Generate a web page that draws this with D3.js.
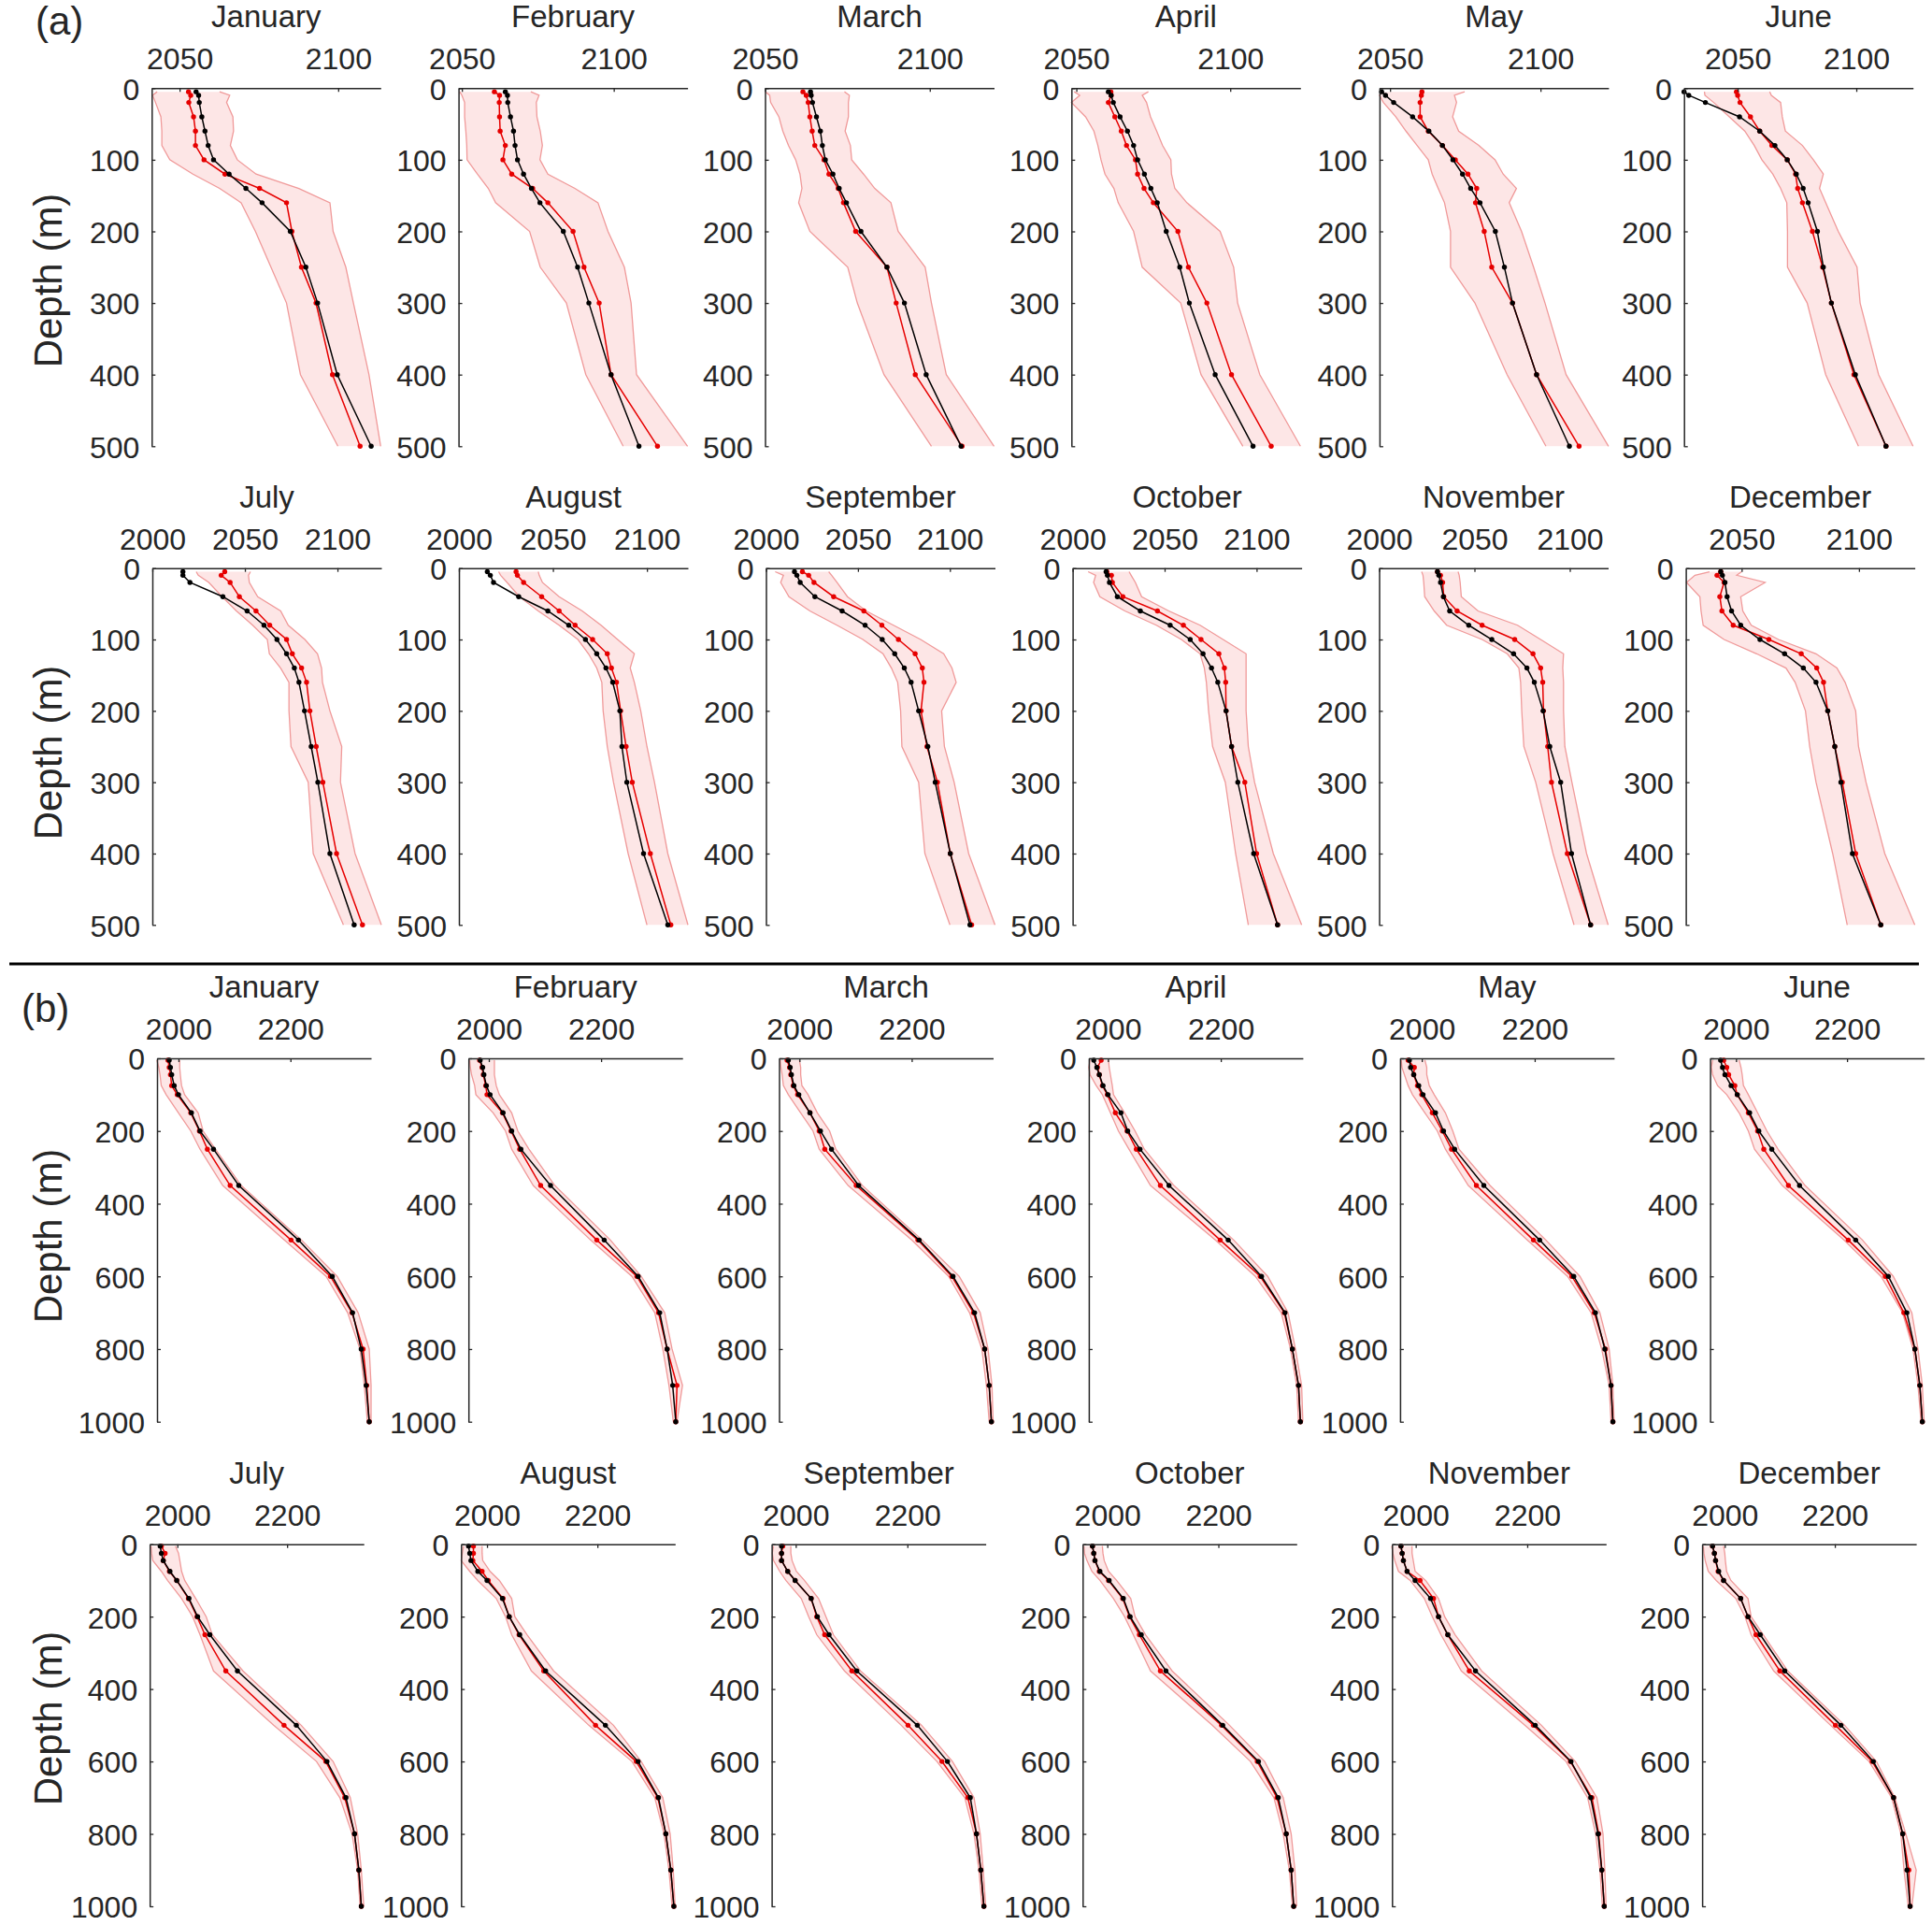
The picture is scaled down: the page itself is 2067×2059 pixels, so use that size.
<!DOCTYPE html>
<html><head><meta charset="utf-8">
<script src="https://cdn.jsdelivr.net/npm/d3@7"></script>
<style>
body{margin:0;background:#fff}
svg{display:block}
text{font-family:"Liberation Sans",Arial,Helvetica,sans-serif;fill:#262626}
</style>
</head><body>
<svg id="c" width="2067" height="2059"></svg>
<script>
// ---------------- DATA ----------------
const months = ["January","February","March","April","May","June","July","August","September","October","November","December"];
const depthA = [5,10,20,40,60,80,100,120,140,160,200,250,300,400,500];
const depthB = [5,25,45,75,100,150,200,250,350,500,600,700,800,900,1000];
const aXticks = [2000,2050,2100];
const bXticks = [2000,2200];
const aYticks = [0,100,200,300,400,500];
const bYticks = [0,200,400,600,800,1000];

// panel (a): x-limits per month
const aXlim = [[2041.2,2113.4],[2048.9,2124.3],[2050,2119.5],[2048.4,2122.8],[2046.5,2122.6],[2027.4,2123.9],
               [2000,2123.7],[2000,2121.8],[2000,2124.5],[2000,2124.5],[2000,2120.1],[2026.2,2123.8]];
const aBlack = [
 [2055.2,2056.0,2056.2,2057.0,2058.0,2059.0,2060.7,2065.6,2070.9,2076.0,2084.9,2089.8,2093.5,2099.7,2110.4],
 [2064.3,2065.0,2065.1,2066.0,2067.0,2067.5,2068.3,2070.3,2072.9,2075.7,2083.4,2088.1,2091.8,2099.1,2108.3],
 [2063.8,2064.0,2064.4,2065.6,2066.8,2067.4,2068.3,2070.6,2072.5,2074.7,2079.1,2087.0,2092.3,2098.9,2109.5],
 [2060.4,2061.3,2062.0,2064.2,2066.6,2068.6,2069.9,2072.1,2074.2,2076.3,2079.2,2083.6,2086.7,2095.1,2107.4],
 [2047.2,2048.5,2051.2,2057.5,2062.9,2067.4,2070.9,2074.1,2076.8,2079.9,2085.0,2088.0,2090.7,2098.7,2109.6],
 [2027.4,2029.4,2036.4,2050.8,2059.3,2065.7,2070.9,2074.7,2077.6,2079.7,2083.6,2086.1,2089.5,2099.6,2112.5],
 [2016.5,2016.5,2020.3,2038.1,2051.2,2060.3,2067.3,2072.5,2076.7,2079.2,2082.2,2085.8,2089.4,2095.9,2109.0],
 [2015.1,2016.7,2018.4,2031.8,2047.3,2058.4,2067.3,2073.3,2078.2,2081.8,2085.6,2086.7,2089.3,2098.2,2111.1],
 [2015.5,2016.8,2018.6,2026.6,2041.4,2053.9,2063.2,2070.0,2075.2,2078.9,2083.0,2088.0,2092.0,2100.2,2110.9],
 [2018.2,2018.9,2020.0,2024.3,2036.8,2053.0,2063.9,2070.9,2075.5,2078.9,2083.4,2086.4,2089.8,2098.4,2111.4],
 [2030.6,2031.3,2032.2,2033.7,2037.0,2047.0,2059.1,2070.5,2077.5,2081.4,2086.0,2089.5,2095.2,2100.9,2110.9],
 [2041.1,2041.8,2042.9,2043.8,2045.7,2049.6,2057.8,2068.3,2076.3,2081.7,2086.7,2089.7,2092.3,2097.2,2109.3]];
const aRed = [
 [2052.8,2053.5,2052.9,2054.4,2055.0,2055.0,2057.7,2064.3,2075.2,2083.7,2085.4,2088.4,2093.0,2098.2,2106.9],
 [2060.7,2062.4,2062.3,2062.4,2062.6,2064.3,2063.5,2066.4,2073.3,2078.3,2086.6,2090.2,2095.2,2099.1,2114.4],
 [2061.5,2062.5,2063.1,2063.6,2064.3,2065.1,2067.9,2069.4,2072.2,2073.8,2077.5,2087.0,2089.8,2095.6,2109.8],
 [2061.2,2061.3,2060.4,2062.5,2064.6,2066.3,2069.2,2069.9,2072.0,2075.0,2083.0,2086.4,2092.4,2100.4,2113.3],
 [2060.6,2060.4,2060.0,2060.0,2062.7,2067.4,2071.7,2075.9,2078.8,2078.4,2081.3,2083.8,2090.7,2098.7,2112.8],
 [2049.5,2050.0,2051.0,2055.4,2059.3,2064.4,2070.9,2074.4,2075.3,2077.3,2081.5,2085.8,2089.5,2099.0,2112.5],
 [2039.1,2037.2,2042.0,2047.0,2056.0,2063.4,2072.5,2075.6,2080.6,2083.3,2085.1,2088.5,2092.1,2099.5,2113.5],
 [2030.4,2031.1,2034.4,2044.0,2053.3,2061.8,2071.1,2078.9,2081.1,2083.8,2086.0,2088.9,2092.2,2101.8,2112.7],
 [2019.8,2023.2,2026.1,2036.8,2053.2,2063.0,2072.0,2081.1,2085.0,2085.9,2084.3,2087.5,2093.2,2100.2,2111.8],
 [2018.6,2021.1,2021.6,2027.3,2046.1,2060.2,2069.8,2079.5,2082.5,2083.2,2083.4,2086.4,2093.6,2100.0,2111.4],
 [2030.6,2032.2,2033.3,2033.9,2040.9,2054.0,2071.1,2080.7,2084.7,2085.8,2086.2,2088.4,2090.4,2098.7,2110.9],
 [2041.1,2039.5,2042.5,2040.7,2041.6,2046.4,2061.6,2075.4,2082.0,2084.9,2086.7,2089.7,2092.9,2098.6,2109.3]];
const aLow = [
 [2042.9,2041.5,2042.4,2044.1,2044.4,2044.4,2046.9,2054.2,2062.6,2069.4,2073.9,2078.8,2083.7,2088.1,2099.9],
 [2049.3,2050.0,2050.9,2050.9,2051.3,2051.6,2051.7,2055.1,2058.7,2061.1,2072.3,2075.8,2084.4,2090.8,2103.1],
 [2050.1,2051.4,2051.7,2054.2,2055.4,2057.1,2059.3,2060.6,2061.2,2060.2,2063.6,2075.1,2078.0,2086.1,2100.5],
 [2049.3,2051.1,2048.4,2053.0,2055.7,2057.0,2058.0,2059.3,2062.2,2063.6,2068.6,2071.4,2083.9,2090.5,2104.1],
 [2047.2,2046.5,2047.8,2051.9,2055.3,2059.0,2062.7,2064.0,2066.0,2068.1,2070.1,2070.1,2078.2,2088.9,2101.8],
 [2036.0,2036.2,2039.9,2046.5,2053.0,2057.0,2060.2,2064.8,2068.1,2070.7,2071.0,2071.0,2079.3,2087.1,2100.9],
 [2023.7,2024.8,2030.5,2037.7,2045.4,2054.2,2062.1,2063.2,2069.3,2073.8,2073.8,2074.9,2084.2,2086.9,2103.2],
 [2021.1,2022.2,2025.6,2032.2,2042.2,2053.3,2063.3,2068.9,2073.3,2076.0,2076.7,2078.9,2082.2,2090.0,2100.0],
 [2005.0,2009.5,2008.0,2012.5,2023.9,2038.6,2052.7,2063.6,2068.2,2071.6,2073.2,2073.9,2083.0,2086.4,2100.0],
 [2008.4,2012.5,2011.4,2014.8,2028.4,2045.5,2059.1,2069.3,2071.6,2072.7,2073.9,2076.1,2083.0,2088.6,2095.5],
 [2022.3,2023.0,2023.4,2023.9,2028.9,2035.4,2054.0,2067.2,2073.3,2074.2,2074.8,2075.9,2082.1,2091.2,2102.2],
 [2036.3,2030.1,2026.5,2032.2,2032.7,2033.6,2042.5,2056.4,2068.9,2072.8,2077.2,2079.0,2081.7,2088.8,2095.0]];
const aHigh = [
 [2062.6,2065.8,2064.8,2066.8,2067.0,2066.0,2068.2,2074.1,2087.6,2097.4,2098.4,2102.4,2104.8,2109.7,2113.4],
 [2072.7,2075.4,2074.5,2074.7,2075.8,2076.5,2075.7,2078.3,2087.2,2094.8,2098.1,2103.5,2105.7,2107.5,2124.3],
 [2074.1,2075.6,2075.3,2075.3,2074.3,2075.9,2076.3,2079.9,2083.3,2088.2,2090.4,2098.6,2100.5,2105.0,2119.5],
 [2073.4,2071.4,2072.8,2074.1,2076.1,2078.0,2080.7,2080.9,2082.0,2085.9,2096.7,2101.1,2102.4,2109.6,2122.8],
 [2074.8,2071.4,2072.1,2070.8,2072.8,2079.5,2084.9,2087.6,2092.0,2089.6,2093.7,2097.7,2101.5,2108.5,2122.6],
 [2063.5,2064.2,2068.1,2068.8,2070.1,2077.3,2081.9,2086.1,2084.5,2087.1,2092.4,2100.3,2101.6,2109.4,2123.9],
 [2053.0,2051.9,2052.4,2056.9,2069.3,2073.4,2082.4,2089.2,2091.4,2091.9,2095.9,2102.3,2101.6,2109.5,2123.7],
 [2042.2,2042.7,2044.4,2053.3,2065.6,2075.6,2084.4,2093.3,2091.1,2093.3,2096.7,2100.0,2104.0,2111.1,2121.8],
 [2034.1,2035.7,2038.6,2044.3,2054.5,2069.3,2084.1,2096.6,2101.1,2103.4,2095.5,2097.0,2102.3,2110.2,2124.5],
 [2030.7,2031.8,2034.1,2037.5,2052.3,2069.3,2081.8,2094.3,2094.3,2094.3,2094.3,2095.5,2098.9,2109.1,2124.5],
 [2041.4,2042.0,2042.5,2043.1,2051.9,2072.6,2084.7,2096.7,2096.3,2096.7,2096.7,2097.4,2101.1,2108.8,2120.1],
 [2050.0,2047.9,2060.0,2049.6,2050.5,2054.1,2065.7,2081.7,2090.6,2094.1,2098.6,2099.8,2103.0,2111.0,2123.8]];

// panel (b): x-limits per month
const bXlim = [[1961.7,2344],[1963.7,2345],[1963.7,2345],[1966.1,2345.4],[1961.5,2340.7],[1953.3,2338.9],
               [1949.7,2339.7],[1953,2340.8],[1956.9,2340.3],[1955.6,2341],[1957.5,2341.4],[1958.9,2347.8]];
const bBlack = [
 [1983.5,1985.7,1987.9,1992.3,2000.0,2023.1,2038.5,2062.6,2107.7,2214.3,2274.7,2311.0,2326.4,2335.2,2340.7],
 [1984.6,1989.0,1991.2,1995.6,2002.2,2025.3,2040.7,2057.1,2109.9,2205.5,2265.9,2304.4,2317.6,2327.5,2333.0],
 [1980.2,1983.5,1985.7,1990.1,1998.9,2018.7,2037.4,2057.1,2105.5,2213.2,2273.6,2312.0,2330.0,2338.0,2342.0],
 [1974.9,1980.3,1984.7,1991.3,2000.0,2023.0,2035.0,2056.8,2108.2,2213.1,2272.1,2313.7,2326.8,2337.7,2341.0],
 [1978.0,1980.2,1985.7,1994.5,2002.2,2024.2,2038.5,2058.2,2109.9,2208.8,2269.2,2307.7,2324.2,2335.2,2338.5],
 [1972.2,1975.6,1980.0,1991.1,2002.2,2024.4,2041.1,2064.4,2114.4,2215.6,2274.4,2307.8,2322.2,2331.1,2335.6],
 [1968.7,1970.9,1974.3,1986.6,1998.9,2021.2,2036.9,2059.2,2109.5,2216.8,2272.6,2307.3,2322.9,2330.7,2335.2],
 [1966.5,1968.7,1970.9,1983.2,2000.0,2027.9,2040.2,2059.2,2106.1,2214.5,2273.7,2310.6,2324.0,2333.0,2338.5],
 [1974.6,1974.6,1974.6,1985.6,1998.9,2027.6,2038.7,2059.7,2109.4,2217.7,2271.8,2312.7,2323.8,2331.5,2337.0],
 [1973.3,1975.6,1977.8,1986.7,2003.3,2028.9,2041.1,2061.1,2105.6,2207.8,2272.2,2307.8,2322.2,2331.1,2335.6],
 [1973.5,1975.7,1977.9,1984.5,1998.9,2026.5,2040.9,2057.5,2107.2,2214.4,2278.5,2313.8,2327.1,2333.7,2338.1],
 [1977.8,1981.1,1983.3,1988.9,1997.8,2028.9,2042.2,2064.4,2108.9,2211.1,2270.0,2306.7,2323.3,2331.1,2336.7]];
const bRed = [
 [1981.3,1983.5,1985.7,1987.9,1997.8,2022.0,2037.4,2051.6,2092.3,2201.1,2271.4,2309.9,2329.7,2336.3,2340.7],
 [1983.5,1987.9,1990.1,1994.5,1996.7,2024.2,2039.6,2054.9,2092.3,2192.3,2263.7,2302.2,2317.6,2335.2,2333.0],
 [1978.0,1982.4,1984.6,1989.0,1996.7,2018.7,2035.2,2045.1,2101.1,2211.0,2271.4,2310.0,2330.0,2338.0,2342.0],
 [1988.0,1981.4,1984.7,1990.2,1998.9,2013.1,2033.9,2050.3,2092.9,2198.9,2269.9,2312.6,2326.8,2337.7,2341.0],
 [1975.8,1986.8,1985.7,1992.3,2000.0,2018.7,2036.3,2052.7,2096.7,2197.8,2265.9,2305.5,2325.3,2335.2,2338.5],
 [1977.8,1983.3,1986.7,1997.8,2002.2,2022.2,2038.9,2050.0,2094.4,2202.2,2268.9,2302.2,2322.2,2331.1,2335.6],
 [1970.9,1977.7,1974.3,1985.5,1998.9,2020.1,2035.8,2050.3,2088.3,2194.4,2270.4,2305.0,2322.9,2330.7,2335.2],
 [1975.4,1975.4,1974.3,1991.1,2002.2,2029.1,2040.2,2058.1,2102.8,2196.6,2270.4,2309.5,2324.0,2333.0,2338.5],
 [1976.8,1974.6,1974.6,1985.6,1998.9,2027.6,2037.6,2051.9,2100.6,2201.1,2261.9,2308.3,2323.8,2331.5,2337.0],
 [1973.3,1975.6,1977.8,1985.6,2002.2,2027.8,2040.0,2057.8,2095.6,2205.6,2270.0,2305.6,2322.2,2331.1,2335.6],
 [1973.5,1975.7,1977.9,1984.5,2007.7,2032.0,2040.9,2057.5,2096.1,2211.0,2277.3,2316.0,2328.2,2333.7,2338.1],
 [1977.8,1981.1,1983.3,1987.8,1997.8,2028.9,2042.2,2056.7,2100.0,2201.1,2267.8,2306.7,2323.3,2334.4,2336.7]];
const bLow = [
 [1961.5,1964.8,1967.0,1969.2,1978.0,2000.0,2022.0,2038.5,2079.1,2189.0,2263.7,2302.2,2324.2,2331.9,2337.4],
 [1965.9,1967.0,1969.2,1974.7,1976.9,2007.7,2029.7,2040.7,2079.1,2181.3,2254.9,2295.6,2309.9,2320.9,2328.6],
 [1965.9,1967.0,1969.2,1971.4,1980.2,2002.2,2024.2,2035.2,2086.8,2200.0,2265.9,2303.0,2325.0,2333.0,2338.0],
 [1968.3,1966.1,1968.3,1979.2,1990.2,2004.4,2018.6,2037.2,2075.4,2190.2,2261.2,2307.1,2323.5,2334.4,2337.7],
 [1963.7,1964.8,1969.2,1975.8,1983.5,2005.5,2027.5,2041.8,2082.4,2186.8,2258.2,2300.0,2318.7,2331.9,2335.2],
 [1957.8,1955.6,1957.8,1966.7,1983.3,2005.6,2022.2,2033.3,2083.3,2194.4,2261.1,2300.0,2318.9,2327.8,2333.3],
 [1952.0,1953.1,1955.3,1970.9,1982.1,2007.8,2027.9,2041.3,2065.9,2175.4,2253.6,2296.1,2318.4,2328.5,2333.0],
 [1957.5,1955.3,1953.1,1968.7,1983.2,2016.8,2033.5,2044.7,2080.4,2184.4,2262.6,2303.9,2320.7,2329.6,2335.2],
 [1960.2,1958.0,1960.2,1971.3,1982.3,2009.9,2023.2,2037.6,2087.3,2189.0,2253.0,2302.8,2319.3,2328.2,2333.7],
 [1957.8,1958.9,1963.3,1972.2,1986.7,2011.1,2031.1,2046.7,2077.8,2188.9,2257.8,2300.0,2316.7,2327.8,2333.3],
 [1956.9,1959.1,1962.4,1969.1,1990.1,2015.5,2029.8,2045.3,2081.8,2195.6,2269.6,2308.3,2322.7,2330.4,2334.8],
 [1961.1,1962.2,1964.4,1970.0,1984.4,2020.0,2036.7,2047.8,2088.9,2192.2,2262.2,2303.3,2320.0,2325.6,2333.3]];
const bHigh = [
 [2002.2,2002.2,2003.3,2005.5,2011.0,2035.2,2044.0,2065.9,2112.1,2219.8,2283.5,2320.9,2340.7,2344.0,2344.0],
 [2009.9,2009.9,2009.9,2013.2,2018.7,2040.7,2051.6,2071.4,2117.6,2216.5,2271.4,2313.2,2326.4,2345.0,2335.2],
 [2000.0,2002.2,2002.2,2004.4,2015.4,2031.9,2053.8,2064.8,2112.1,2218.7,2284.6,2322.0,2336.0,2343.0,2345.0],
 [2001.1,2002.2,2004.4,2007.7,2009.8,2029.5,2048.1,2064.5,2116.9,2222.9,2283.1,2319.1,2332.2,2343.2,2345.4],
 [2005.5,2008.8,2008.8,2013.2,2022.0,2041.8,2054.9,2065.9,2120.9,2219.8,2280.2,2315.4,2331.9,2338.5,2340.7],
 [2005.6,2008.9,2011.1,2013.3,2022.2,2038.9,2055.6,2075.6,2124.4,2227.8,2283.3,2316.7,2327.8,2335.6,2338.9],
 [1996.6,2002.2,2004.5,2007.8,2013.4,2033.5,2052.5,2063.7,2119.6,2225.7,2283.8,2315.1,2328.5,2335.2,2339.7],
 [1991.1,1991.1,1992.2,2005.6,2022.3,2044.7,2050.3,2072.6,2120.7,2229.1,2279.3,2318.4,2331.8,2337.4,2340.8],
 [1991.2,1991.2,1993.4,2001.1,2015.5,2040.9,2054.1,2067.4,2116.0,2225.4,2280.7,2319.3,2330.4,2335.9,2340.3],
 [1991.1,1992.2,1994.4,2002.2,2016.7,2042.2,2050.0,2068.9,2116.7,2220.0,2283.3,2316.7,2331.1,2337.8,2341.0],
 [1993.4,1993.4,1995.6,1998.9,2017.7,2040.9,2051.9,2070.7,2118.2,2225.4,2286.2,2324.9,2335.9,2339.2,2341.4],
 [1997.8,2000.0,2001.1,2003.3,2011.1,2042.2,2047.8,2070.0,2114.4,2217.8,2275.6,2308.9,2328.9,2347.8,2340.0]];

// ---------------- LAYOUT ----------------
const rowsLayout = [
  {part:'a', top:94.3,  h:383,   w:245, lefts:[162.3,490.6,818.5,1146.3,1475.9,1801.7], labelY:300, m0:0},
  {part:'a', top:607.7, h:381.6, w:245, lefts:[163,491,819.5,1147.6,1475.5,1803.6],     labelY:805, m0:6},
  {part:'b', top:1132,  h:388.7, w:229, lefts:[168,501.2,833.5,1164.9,1497.9,1829.6],   labelY:1322, m0:0},
  {part:'b', top:1651.7,h:387.3, w:229, lefts:[160.2,493.3,825.6,1158.3,1489.3,1821.1], labelY:1838, m0:6}
];
const INK = '#262626';
const svg = d3.select('#c');

function panel(p) {
  const g = svg.append('g');
  const x = d3.scaleLinear().domain(p.xlim).range([p.left, p.left + p.w]);
  const y = d3.scaleLinear().domain([0, p.ymax]).range([p.top, p.top + p.h]);
  const rows = p.depth.map((d, i) => ({d, lo: p.low[i], hi: p.high[i], r: p.red[i], k: p.black[i]}));

  g.append('path').datum(rows)
    .attr('d', d3.area().y(r => y(r.d)).x0(r => x(r.lo)).x1(r => x(r.hi)))
    .attr('fill', '#fde6e6').attr('stroke', 'none');
  for (const key of ['lo', 'hi']) {
    g.append('path').datum(rows)
      .attr('d', d3.line().x(r => x(r[key])).y(r => y(r.d)))
      .attr('fill', 'none').attr('stroke', '#f09a9a').attr('stroke-width', 1.3);
  }
  for (const [key, col] of [['r', '#e60000'], ['k', '#000000']]) {
    g.append('path').datum(rows)
      .attr('d', d3.line().x(r => x(r[key])).y(r => y(r.d)))
      .attr('fill', 'none').attr('stroke', col).attr('stroke-width', 1.5);
    g.append('g').selectAll('circle').data(rows).join('circle')
      .attr('cx', r => x(r[key])).attr('cy', r => y(r.d)).attr('r', 2.7).attr('fill', col);
  }

  const xt = p.xticks.filter(t => t >= p.xlim[0] - 0.01 && t <= p.xlim[1]);
  const ax = g.append('g').attr('transform', `translate(0,${p.top})`)
    .call(d3.axisTop(x).tickValues(xt).tickSize(-4).tickSizeOuter(0).tickPadding(20).tickFormat(d3.format('d')));
  const ay = g.append('g').attr('transform', `translate(${p.left},0)`)
    .call(d3.axisLeft(y).tickValues(p.yticks).tickSize(-4).tickSizeOuter(0).tickPadding(13).tickFormat(d3.format('d')));
  for (const a of [ax, ay]) {
    a.attr('font-size', null).attr('font-family', null);
    a.select('.domain').attr('stroke', INK).attr('stroke-width', 1.5);
    a.selectAll('.tick line').attr('stroke', INK).attr('stroke-width', 1.3);
    a.selectAll('.tick text').attr('fill', INK).style('font-size', '32px');
  }
  ay.selectAll('.tick text').attr('dy', '0.37em');

  g.append('text').attr('x', p.left + p.w / 2).attr('y', p.top - 65)
    .attr('text-anchor', 'middle').style('font-size', '33px').text(p.title);
}

rowsLayout.forEach(L => {
  for (let c = 0; c < 6; c++) {
    const m = L.m0 + c;
    const isA = L.part === 'a';
    panel({
      left: L.lefts[c], top: L.top, w: L.w, h: L.h,
      xlim: isA ? aXlim[m] : bXlim[m],
      ymax: isA ? 500 : 1000,
      depth: isA ? depthA : depthB,
      black: isA ? aBlack[m] : bBlack[m],
      red: isA ? aRed[m] : bRed[m],
      low: isA ? aLow[m] : bLow[m],
      high: isA ? aHigh[m] : bHigh[m],
      xticks: isA ? aXticks : bXticks,
      yticks: isA ? aYticks : bYticks,
      title: months[m]
    });
  }
  svg.append('text').attr('transform', `translate(66,${L.labelY}) rotate(-90)`)
    .attr('text-anchor', 'middle').style('font-size', '42px').text('Depth (m)');
});

svg.append('text').attr('x', 38).attr('y', 37).style('font-size', '42px').text('(a)');
svg.append('text').attr('x', 23).attr('y', 1093).style('font-size', '42px').text('(b)');
svg.append('line').attr('x1', 10).attr('x2', 2053).attr('y1', 1031).attr('y2', 1031)
  .attr('stroke', '#000').attr('stroke-width', 3);
</script>
</body></html>
